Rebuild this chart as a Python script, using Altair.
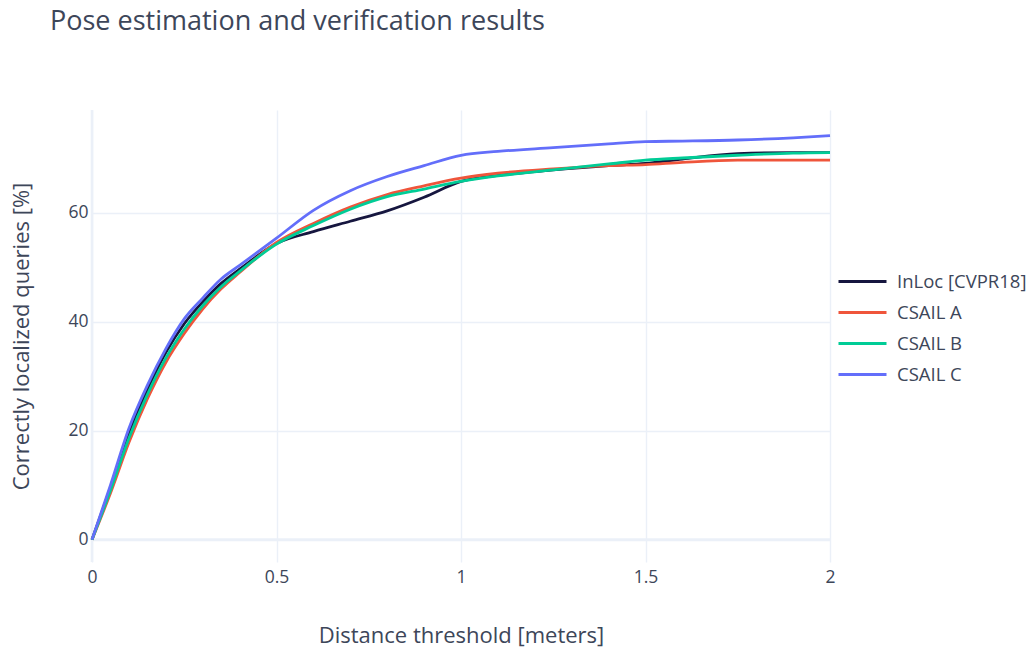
import altair as alt
import pandas as pd

# Distance thresholds (meters)
dist = [0, 0.05, 0.1, 0.15, 0.2, 0.25, 0.3, 0.35, 0.4, 0.5, 0.6, 0.7, 0.8, 0.9,
        1.0, 1.1, 1.25, 1.4, 1.5, 1.6, 1.75, 1.9, 2.0]

inloc = [0, 9.5, 19.5, 27.5, 34.3, 39.6, 43.6, 47.0, 49.6, 54.3, 56.5, 58.4, 60.3, 62.8,
         65.7, 66.8, 67.8, 68.6, 69.0, 69.8, 70.8, 71.0, 71.0]
csail_a = [0, 8.5, 17.8, 25.8, 32.5, 37.8, 42.3, 46.0, 49.0, 54.5, 58.0, 61.0, 63.3, 64.9,
           66.3, 67.2, 68.0, 68.6, 68.8, 69.2, 69.6, 69.6, 69.6]
csail_b = [0, 9.0, 18.6, 26.6, 33.3, 38.6, 42.9, 46.4, 49.2, 54.2, 57.6, 60.6, 62.9, 64.3,
           65.7, 66.7, 67.8, 68.9, 69.6, 70.0, 70.5, 70.9, 71.0]
csail_c = [0, 10.0, 20.4, 28.3, 35.0, 40.5, 44.3, 47.8, 50.3, 55.3, 60.4, 64.0, 66.6, 68.6,
           70.5, 71.2, 71.9, 72.6, 73.0, 73.1, 73.3, 73.7, 74.1]

series_names = ["InLoc [CVPR18]", "CSAIL A", "CSAIL B", "CSAIL C"]
series_colors = ["#16163f", "#EF553B", "#00CC96", "#636EFA"]
x_ticks = [0, 0.5, 1, 1.5, 2]
y_ticks = [0, 20, 40, 60]

rows = []
for name, vals in zip(series_names, [inloc, csail_a, csail_b, csail_c]):
    for i, (d, v) in enumerate(zip(dist, vals)):
        rows.append({"dist": d, "value": v, "series": name, "order": i})
df = pd.DataFrame(rows)

FONT = "Open Sans"
TXT = "#3d4659"
GRID = "#EBF0F8"

x_scale = alt.Scale(domain=[0, 2], nice=False, zero=False)
y_scale = alt.Scale(domain=[-4.1, 78.8], nice=False, zero=False)

lines = alt.Chart(df).mark_line(strokeWidth=2.8, interpolate="monotone").encode(
    x=alt.X("dist:Q", scale=x_scale,
            axis=alt.Axis(values=x_ticks, format=".1~f", title="Distance threshold [meters]",
                          titleY=63, titleBaseline="top", labelPadding=6, labelFlush=False)),
    y=alt.Y("value:Q", scale=y_scale,
            axis=alt.Axis(values=y_ticks, title="Correctly localized queries [%]",
                          titleX=-59, labelPadding=4)),
    color=alt.Color("series:N",
                    scale=alt.Scale(domain=series_names, range=series_colors),
                    legend=alt.Legend(title=None, orient="none", legendX=745, legendY=156,
                                      symbolType="stroke", symbolSize=2304,
                                      symbolStrokeWidth=3, labelOffset=9,
                                      labelFontSize=18.5, labelFont=FONT, labelColor=TXT,
                                      clipHeight=31, rowPadding=0, padding=0)),
    order="order:Q",
)

zero_h = alt.Chart().mark_rule(color=GRID, strokeWidth=2.6).encode(y=alt.datum(0, scale=y_scale))
zero_v = alt.Chart().mark_rule(color=GRID, strokeWidth=2.6).encode(x=alt.datum(0, scale=x_scale))

chart = alt.layer(zero_h, zero_v, lines).properties(
    width=738, height=452,
    background="white",
    autosize=alt.AutoSizeParams(type="none"),
    padding={"left": 92, "top": 110, "right": 202, "bottom": 90},
    title=alt.TitleParams("Pose estimation and verification results", anchor="start",
                          frame="group", dx=-42, offset=52, baseline="alphabetic",
                          fontSize=27, font=FONT, fontWeight="normal", color=TXT),
).configure_view(stroke=None).configure_axis(
    grid=True, gridColor=GRID, gridWidth=1.4, domain=False, ticks=False,
    labelFont=FONT, labelFontSize=17.5, labelColor=TXT,
    titleFont=FONT, titleFontSize=22, titleColor=TXT, titleFontWeight="normal",
)

chart.save("out.html", embed_options={"renderer": "svg", "actions": False})
